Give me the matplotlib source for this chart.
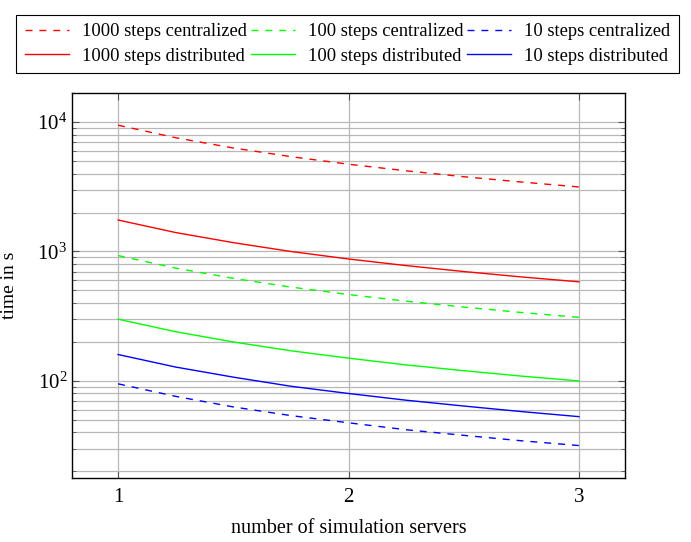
import matplotlib
matplotlib.use("Agg")
from matplotlib import pyplot as plt
from matplotlib.ticker import LogLocator, NullFormatter

# valores
servidores = [1, 1.25, 1.5, 1.75, 2, 2.25, 2.5, 2.75, 3]
c1000 = [9450, 7560, 6300, 5400, 4720, 4200, 3780, 3440, 3150]
d1000 = [1750, 1400, 1170, 1000, 875, 778, 700, 636, 583]
c100 = [930, 744, 620, 531, 465, 413, 372, 338, 310]
d100 = [300, 240, 200, 171, 150, 133, 120, 109, 100]
c10 = [95, 76, 63, 54, 47.5, 42, 38, 34.5, 31.7]
d10 = [160, 128, 107, 91, 80, 71, 64, 58, 53]

rotulos = ['1000 steps centralized', '1000 steps distributed',
           '100 steps centralized', '100 steps distributed',
           '10 steps centralized', '10 steps distributed']
series = [c1000, d1000, c100, d100, c10, d10]
cores = ['#ff0000', '#ff0000', '#00ff00', '#00ff00', '#0000ff', '#0000ff']
estilos = [(0, (5, 5)), '-', (0, (5, 5)), '-', (0, (5, 5)), '-']

plt.rcParams['font.family'] = ['Liberation Serif', 'DejaVu Serif']
plt.rcParams['mathtext.fontset'] = 'cm'

fig = plt.figure(figsize=(6.91, 5.42), dpi=100)
ax = fig.add_axes([0.1042, 0.1181, 0.8003, 0.7103])

linhas = []
for i in range(len(series)):
    l, = ax.plot(servidores, series[i], color=cores[i], linestyle=estilos[i],
                 linewidth=1.0, label=rotulos[i])
    linhas.append(l)

ax.set_yscale('log')
ax.set_xlim(0.8, 3.2)
ax.set_ylim(17.8, 16750)
ax.set_xticks([1, 2, 3])
ax.set_xticklabels(['1', '2', '3'])
ax.yaxis.set_major_locator(LogLocator(base=10, numticks=10))
ax.yaxis.set_minor_locator(LogLocator(base=10, subs=range(2, 10), numticks=100))
ax.yaxis.set_minor_formatter(NullFormatter())

ax.grid(True, which='major', color='#b8b8b8', linewidth=0.9)
ax.grid(True, which='minor', axis='y', color='#b8b8b8', linewidth=0.9)
ax.set_axisbelow(True)

ax.tick_params(which='both', direction='in', top=True, right=True, colors='#555555',
               labelcolor='black', labelsize=15)
ax.tick_params(which='major', length=5)
ax.tick_params(which='minor', length=3)
ax.tick_params(axis='x', pad=7)
for s in ax.spines.values():
    s.set_linewidth(1.0)

ax.set_xlabel('number of simulation servers', fontsize=14.5, labelpad=9)
ax.set_ylabel('time in s', fontsize=14)
ax.yaxis.set_label_coords(-0.097, 0.5)

leg = fig.legend(handles=linhas, loc='upper center', bbox_to_anchor=(0.503, 0.972),
                 ncol=3, fontsize=13.3, frameon=True, fancybox=False,
                 edgecolor='black', framealpha=1, handlelength=2.4,
                 columnspacing=0.2, handletextpad=0.7, borderpad=0.45,
                 labelspacing=0.4, borderaxespad=0)
leg.get_frame().set_linewidth(0.8)

fig.savefig('out.png', dpi=100)
